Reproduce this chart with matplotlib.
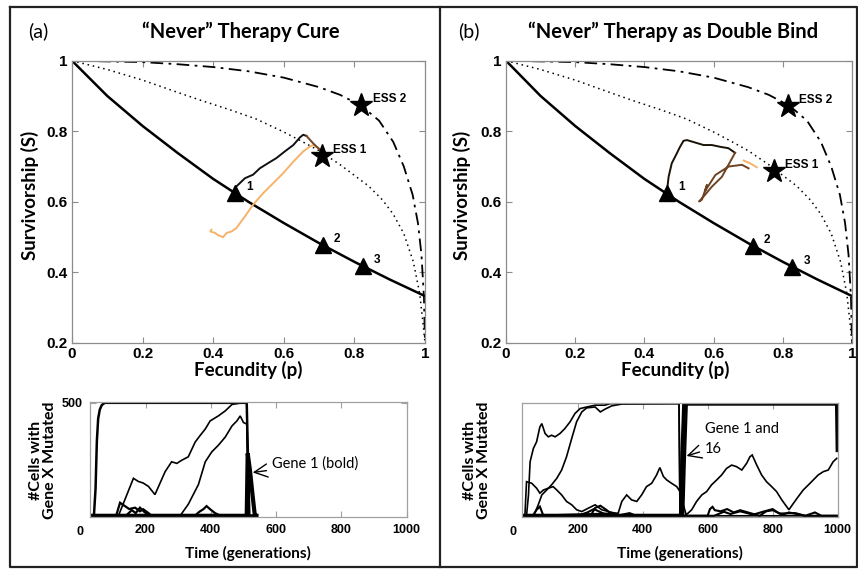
#!/usr/bin/env python3
"""Two-panel "Never" therapy figure: trade-off curves on top, gene counts below."""
import matplotlib
matplotlib.use("Agg")
import matplotlib.pyplot as plt
from matplotlib.lines import Line2D

# ---- trade-off curves (fecundity p, survivorship S) ----
solid_p = [0, 0.1, 0.2, 0.3, 0.4, 0.5, 0.6, 0.7, 0.8, 0.9, 1.0]
solid_s = [1.0, 0.9, 0.815, 0.738, 0.665, 0.6, 0.54, 0.483, 0.43, 0.38, 0.333]

dotted_p = [0, 0.1, 0.2, 0.3, 0.367, 0.45, 0.521, 0.6, 0.65, 0.7, 0.76, 0.84,
            0.88, 0.91, 0.94, 0.967, 0.985, 0.995, 1.0]
dotted_s = [1.0, 0.975, 0.945, 0.91, 0.887, 0.86, 0.835, 0.798, 0.772, 0.745,
            0.705, 0.645, 0.605, 0.565, 0.51, 0.43, 0.34, 0.25, 0.2]

dashdot_p = [0, 0.2, 0.3, 0.4, 0.5, 0.6, 0.7, 0.76, 0.82, 0.87, 0.91, 0.94,
             0.965, 0.98, 0.99, 0.997, 1.0]
dashdot_s = [1.0, 0.996, 0.99, 0.982, 0.97, 0.952, 0.925, 0.903, 0.872, 0.83,
             0.77, 0.70, 0.62, 0.54, 0.45, 0.33, 0.2]

tri_labels = ["1", "2", "3"]
tri_p_a = [0.462, 0.711, 0.824]
tri_s_a = [0.626, 0.477, 0.418]
tri_p_b = [0.465, 0.713, 0.828]
tri_s_b = [0.626, 0.476, 0.416]

ess_labels = ["ESS 1", "ESS 2"]
ess_p_a = [0.707, 0.82]
ess_s_a = [0.730, 0.875]
ess_p_b = [0.775, 0.814]
ess_s_b = [0.688, 0.872]

# ---- evolutionary trajectories ----
traj_a_black_p = [0.466, 0.49, 0.513, 0.532, 0.556, 0.579, 0.603, 0.627, 0.646, 0.655, 0.664]
traj_a_black_s = [0.644, 0.667, 0.677, 0.695, 0.71, 0.724, 0.743, 0.761, 0.783, 0.79, 0.787]
traj_a_brown_p = [0.664, 0.683, 0.707, 0.716]
traj_a_brown_s = [0.787, 0.766, 0.743, 0.738]
traj_a_orange_p = [0.395, 0.392, 0.405, 0.415, 0.428, 0.438, 0.452, 0.466, 0.49, 0.513,
                   0.542, 0.57, 0.598, 0.627, 0.655, 0.674, 0.683, 0.707]
traj_a_orange_s = [0.521, 0.516, 0.512, 0.505, 0.5, 0.512, 0.516, 0.526, 0.559, 0.592,
                   0.625, 0.653, 0.681, 0.714, 0.743, 0.757, 0.761, 0.747]

traj_b_black_p = [0.465, 0.47, 0.479, 0.494, 0.503, 0.513, 0.523, 0.547, 0.571, 0.595,
                  0.619, 0.643, 0.662]
traj_b_black_s = [0.629, 0.671, 0.709, 0.738, 0.756, 0.773, 0.775, 0.768, 0.761, 0.761,
                  0.756, 0.752, 0.739]
traj_b_brown_p = [0.662, 0.624, 0.595, 0.571, 0.558, 0.566, 0.581, 0.575, 0.605, 0.643,
                  0.682, 0.701]
traj_b_brown_s = [0.739, 0.671, 0.643, 0.615, 0.601, 0.606, 0.648, 0.63, 0.676, 0.70,
                  0.705, 0.695]
traj_b_orange_p = [0.687, 0.706, 0.725]
traj_b_orange_s = [0.717, 0.709, 0.698]

# ---- gene mutation counts, panel (a) ----
a_fix_t = [30, 42, 47, 51, 55, 60, 66, 75, 510, 514, 518, 540]
a_fix_v = [0, 0, 120, 330, 430, 470, 490, 500, 500, 250, 0, 0]
a_gene1_t = [30, 510, 513, 520, 528, 535, 540]
a_gene1_v = [0, 0, 276, 200, 90, 0, 0]
a_b_t = [30, 117, 147, 163, 178, 193, 209, 229, 260, 280, 296, 311, 331, 352, 367,
         383, 398, 423, 444, 465, 495, 510, 516, 540]
a_b_v = [0, 0, 108, 166, 152, 145, 130, 94, 195, 239, 232, 246, 261, 326, 355,
         384, 420, 442, 464, 493, 500, 500, 0, 0]
a_c_t = [30, 306, 331, 362, 383, 403, 423, 444, 465, 480, 490, 500, 510, 516, 540]
a_c_v = [0, 0, 51, 138, 239, 283, 312, 348, 398, 420, 442, 413, 406, 0, 0]
a_d_t = [30, 110, 122, 137, 150, 168, 183, 193, 209, 219, 540]
a_d_v = [0, 0, 58, 43, 30, 36, 20, 29, 12, 0, 0]
a_e_t = [30, 140, 158, 170, 183, 198, 215, 351, 365, 377, 387, 398, 413, 430, 540]
a_e_v = [0, 0, 25, 12, 36, 15, 0, 0, 18, 29, 43, 29, 12, 0, 0]

# ---- gene mutation counts, panel (b) ----
b_l1_t = [30, 43, 49, 54, 64, 74, 84, 90, 100, 110, 120, 131, 146, 161, 177, 192,
          208, 228, 254, 284, 300, 512, 515]
b_l1_v = [0, 0, 93, 241, 300, 330, 396, 411, 367, 352, 359, 352, 367, 389, 419, 456,
          478, 485, 493, 493, 500, 500, 0]
b_l2_t = [30, 65, 79, 90, 105, 120, 136, 151, 166, 182, 197, 213, 228, 254, 270, 284,
          305, 336, 512, 515]
b_l2_v = [0, 0, 49, 93, 115, 138, 167, 204, 263, 345, 419, 463, 481, 485, 463, 475,
          490, 498, 500, 0]
b_l3_t = [30, 38, 43, 59, 74, 84, 95, 110, 125, 136, 151, 166, 182, 197, 213, 233,
          254, 274, 295, 315, 330]
b_l3_v = [0, 0, 152, 145, 123, 101, 115, 123, 130, 115, 93, 64, 49, 27, 19, 34, 49,
          27, 19, 12, 0]
b_l4_t = [30, 325, 336, 351, 366, 382, 397, 412, 428, 443, 453, 464, 474, 489, 505,
          515, 525, 535, 1000]
b_l4_v = [0, 12, 64, 93, 71, 64, 93, 130, 145, 182, 215, 175, 160, 145, 130, 108,
          50, 0, 0]
b_l5_t = [30, 530, 540, 551, 566, 582, 597, 612, 628, 643, 658, 674, 689, 705, 720,
          730, 737, 751, 766, 781, 797, 812, 828, 843, 850, 864, 879, 894, 910, 925,
          940, 956, 971, 986, 997]
b_l5_v = [0, 0, 12, 27, 64, 93, 108, 138, 160, 182, 211, 226, 219, 204, 234, 263,
          271, 226, 182, 152, 130, 108, 71, 41, 27, 56, 86, 115, 138, 160, 182, 197,
          204, 241, 256]
b_gene1_t = [30, 518, 522, 528, 998, 1000]
b_gene1_v = [0, 0, 250, 500, 500, 293]
b_gene16_t = [30, 525, 530, 536, 1000]
b_gene16_v = [0, 0, 250, 500, 500]
b_n1_t = [30, 62, 74, 84, 95, 240, 254, 270, 290, 310, 600, 607, 615, 622, 640, 660,
          680, 700, 760, 780, 800, 830, 850, 900, 930, 950, 1000]
b_n1_v = [0, 0, 27, 41, 0, 0, 35, 45, 25, 0, 0, 30, 40, 25, 20, 30, 15, 25, 0, 20, 25,
          5, 15, 0, 15, 0, 0]
b_n2_t = [30, 200, 230, 250, 280, 320, 360, 380, 620, 650, 670, 700, 740, 770, 800,
          820, 870, 900, 1000]
b_n2_v = [0, 0, 15, 30, 10, 0, 12, 0, 0, 18, 8, 20, 5, 18, 30, 10, 12, 0, 0]

W, H = 858, 570
TITLE_FONT = ["Lato", "DejaVu Sans"]
TICK_FONT = ["Liberation Sans", "DejaVu Sans"]
NARROW_FONT = ["Liberation Sans Narrow", "Liberation Sans", "DejaVu Sans"]
ORANGE = "#f6b26b"
BROWN = "#6e4424"
SPINE = "#8c8c8c"


def fx(px):
    return px / W


def fy(py):
    return 1 - py / H


def style_box(ax, color=SPINE):
    for sp in ax.spines.values():
        sp.set_color(color)
        sp.set_linewidth(0.9)
    ax.tick_params(direction="in", top=True, right=True, color=color, length=4,
                   width=0.8)


def draw_tradeoff(ax, tri_p, tri_s, ess_p, ess_s, trajs):
    ax.plot(dashdot_p, dashdot_s, color="k", lw=1.3, ls=(0, (7, 3, 1.5, 3)))
    ax.plot(dotted_p, dotted_s, color="k", lw=1.1, ls=(0, (1, 2.5)))
    ax.plot(solid_p, solid_s, color="k", lw=1.8)
    for p, s, c in trajs:
        ax.plot(p, s, color=c, lw=1.4)
    ax.plot(tri_p, tri_s, ls="none", marker="^", ms=12, color="k")
    ax.plot(ess_p, ess_s, ls="none", marker="*", ms=17, color="k")
    for p, s, lab in zip(tri_p, tri_s, tri_labels):
        ax.annotate(lab, (p, s), xytext=(8, 2), textcoords="offset points",
                    fontsize=8.5, fontweight="bold", family=TICK_FONT)
    for p, s, lab in zip(ess_p, ess_s, ess_labels):
        ax.annotate(lab, (p, s), xytext=(8, 2), textcoords="offset points",
                    fontsize=8.5, fontweight="bold", family=TICK_FONT)
    ax.set_xlim(0, 1)
    ax.set_ylim(0.2, 1)
    ax.set_xticks([0, 0.2, 0.4, 0.6, 0.8, 1])
    ax.set_xticklabels(["0", "0.2", "0.4", "0.6", "0.8", "1"])
    ax.set_yticks([0.2, 0.4, 0.6, 0.8, 1])
    ax.set_yticklabels(["0.2", "0.4", "0.6", "0.8", "1"])
    for lab in ax.get_xticklabels() + ax.get_yticklabels():
        lab.set_fontweight("bold")
        lab.set_fontsize(11)
        lab.set_family(TICK_FONT)
    style_box(ax)
    ax.tick_params(pad=3)


def draw_counts(ax, series, show_500):
    for t, v, lw in series:
        ax.plot(t, v, color="k", lw=lw, solid_joinstyle="miter")
    ax.set_xlim(30, 1000)
    ax.set_ylim(-4, 505)
    ax.set_xticks([200, 400, 600, 800, 1000])
    ax.set_xticklabels(["200", "400", "600", "800", "1000"])
    if show_500:
        ax.set_yticks([500])
        ax.set_yticklabels(["500"])
    else:
        ax.set_yticks([])
    for lab in ax.get_xticklabels() + ax.get_yticklabels():
        lab.set_fontweight("bold")
        lab.set_fontsize(9)
        lab.set_family(NARROW_FONT)
    style_box(ax, "#a0a0a0")
    ax.tick_params(pad=5)
    ax.text(0, -0.085, "0", transform=ax.get_xaxis_transform(), ha="center",
            va="top", fontsize=9, fontweight="bold", family=NARROW_FONT)


fig = plt.figure(figsize=(W / 100, H / 100), dpi=100)

ax_a = fig.add_axes([fx(72), fy(343), fx(425 - 72), (343 - 60.7) / H])
ax_b = fig.add_axes([fx(506), fy(343), fx(852 - 506), (343 - 60.7) / H])
ax_c = fig.add_axes([fx(90), fy(516.7), fx(406.7 - 90), (516.7 - 401.7) / H])
ax_d = fig.add_axes([fx(522.3), fy(516.7), fx(837.7 - 522.3), (516.7 - 402.5) / H])

draw_tradeoff(ax_a, tri_p_a, tri_s_a, ess_p_a, ess_s_a,
              [(traj_a_orange_p, traj_a_orange_s, ORANGE),
               (traj_a_black_p, traj_a_black_s, "#111111"),
               (traj_a_brown_p, traj_a_brown_s, BROWN)])
draw_tradeoff(ax_b, tri_p_b, tri_s_b, ess_p_b, ess_s_b,
              [(traj_b_black_p, traj_b_black_s, "#1a1206"),
               (traj_b_brown_p, traj_b_brown_s, BROWN),
               (traj_b_orange_p, traj_b_orange_s, ORANGE)])

draw_counts(ax_c, [(a_d_t, a_d_v, 1.6), (a_e_t, a_e_v, 1.6),
                   (a_b_t, a_b_v, 1.2), (a_c_t, a_c_v, 1.2),
                   (a_fix_t, a_fix_v, 1.8), (a_gene1_t, a_gene1_v, 3.0)], True)
draw_counts(ax_d, [(b_n1_t, b_n1_v, 1.5), (b_n2_t, b_n2_v, 1.5),
                   (b_l3_t, b_l3_v, 1.2), (b_l4_t, b_l4_v, 1.2),
                   (b_l5_t, b_l5_v, 1.2), (b_l1_t, b_l1_v, 1.2),
                   (b_l2_t, b_l2_v, 1.2), (b_gene16_t, b_gene16_v, 1.6),
                   (b_gene1_t, b_gene1_v, 3.0)], False)

arrow = dict(arrowstyle="->,head_length=0.9,head_width=0.45", color="k", lw=1.0)
ax_c.annotate("Gene 1 (bold)", xy=(520, 190), xytext=(272 / W, fy(464)),
              textcoords="figure fraction", va="center", ha="left", fontsize=10.5,
              family=TITLE_FONT, arrowprops=arrow)
ax_d.annotate("Gene 1 and\n16", xy=(527, 263), xytext=(705 / W, fy(439)),
              textcoords="figure fraction", va="center", ha="left", fontsize=10.5,
              family=TITLE_FONT, linespacing=1.5, arrowprops=arrow)

# panel labels, titles and axis labels
for x0, tag, title, tx in [(38, "(a)", "\u201cNever\u201d Therapy Cure", 241),
                           (469, "(b)", "\u201cNever\u201d Therapy as Double Bind", 673)]:
    fig.text(fx(x0), fy(31), tag, ha="center", va="center", fontsize=14,
             family=TITLE_FONT)
    fig.text(fx(tx), fy(32), title, ha="center", va="center", fontsize=14.5,
             fontweight="bold", family=TITLE_FONT)

for xl, yl, fxl in [(30, 195, 248), (462, 195, 675)]:
    fig.text(fx(xl), fy(yl), "Survivorship (S)", rotation=90, ha="center",
             va="center", fontsize=13.5, fontweight="bold", family=TITLE_FONT)
    fig.text(fx(fxl), fy(370), "Fecundity (p)", ha="center", va="center",
             fontsize=13.5, fontweight="bold", family=TITLE_FONT)

for xl, txl in [(43, 248), (477, 680)]:
    fig.text(fx(xl), fy(460), "#Cells with\nGene X Mutated", rotation=90,
             ha="center", va="center", fontsize=11.5, fontweight="bold",
             family=TITLE_FONT, linespacing=1.05)
    fig.text(fx(txl), fy(553), "Time (generations)", ha="center", va="center",
             fontsize=11, fontweight="bold", family=TITLE_FONT)

# outer frame and divider
frame = dict(color="#222222", lw=1.6, transform=fig.transFigure)
fig.add_artist(Line2D([fx(10), fx(857), fx(857), fx(10), fx(10)],
                      [fy(7), fy(7), fy(567), fy(567), fy(7)], **frame))
fig.add_artist(Line2D([fx(440), fx(440)], [fy(7), fy(567)], **frame))

fig.savefig("out.png", dpi=100)
